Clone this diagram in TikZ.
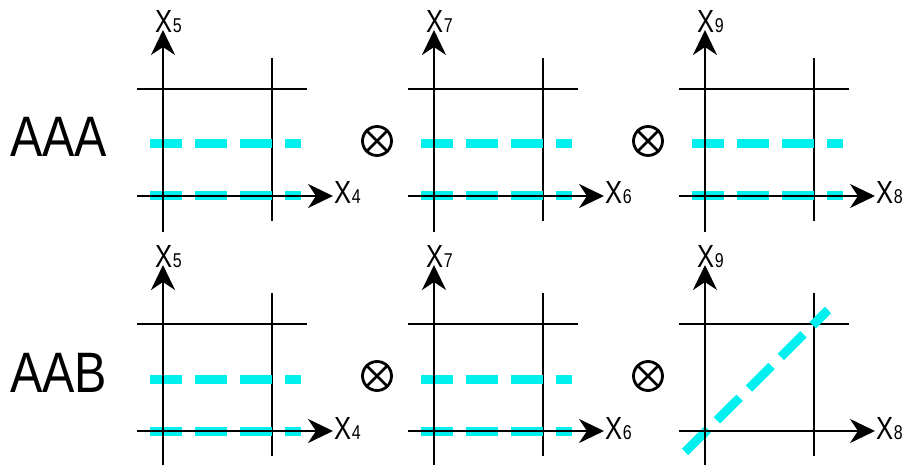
\documentclass[tikz,border=0pt]{standalone}
\usepackage{fontspec}
\setmainfont{Liberation Sans}
\usetikzlibrary{arrows.meta,calc}
\definecolor{aqua}{RGB}{0,240,240}
\newcommand\axlab[1]{\scalebox{0.8}[1]{\fontsize{32}{32}\selectfont X\kern1pt\fontsize{20}{20}\selectfont #1}}
\tikzset{
  axis/.style={line width=2.8pt,-{Stealth[length=25pt,width=24pt,inset=8pt]}},
  grid/.style={line width=2.8pt},
  cyanline/.style={aqua,line width=9pt,dash pattern=on 32pt off 13pt},
  lab/.style={inner sep=0pt,outer sep=0pt},
  otimes/.style={draw,circle,line width=2.8pt,minimum size=29pt,inner sep=0pt},
  big/.style={inner sep=0pt,anchor=base west,font=\fontsize{57}{57}\selectfont}
}
\begin{document}
\begin{tikzpicture}[x=1pt,y=-1pt]
\useasboundingbox (0,0) rectangle (903,465);
\foreach \ox/\oy/\yl/\xl/\nm/\dg in {163/196/5/4/a/0,434/196/7/6/b/0,705/196/9/8/c/0,163/431/5/4/d/0,434/431/7/6/e/0,705/431/9/8/f/1}{
  \coordinate (\nm o) at (\ox,\oy);
  \draw[grid] ($(\nm o)+(-26,-107)$) -- ($(\nm o)+(144,-107)$);
  \draw[grid] ($(\nm o)+(109,-138)$) -- ($(\nm o)+(109,25)$);
  \ifnum\dg=0
    \draw[cyanline] ($(\nm o)+(-13,-52)$) -- ($(\nm o)+(138,-52)$);
    \draw[cyanline] ($(\nm o)+(-13,0)$) -- ($(\nm o)+(138,0)$);
  \else
    \draw[cyanline] ($(\nm o)+(-20,21)$) -- ($(\nm o)+(123,-121)$);
  \fi
  \draw[axis] ($(\nm o)+(0,36)$) -- ($(\nm o)+(0,-166)$);
  \draw[axis] ($(\nm o)+(-26,0)$) -- ($(\nm o)+(170,0)$);
  \node[lab,anchor=base west] (\nm y) at ($(\nm o)+(-8,-163)$) {\axlab{\yl}};
  \node[lab,anchor=base west] (\nm x) at ($(\nm o)+(171,8)$) {\axlab{\xl}};
}
\node[big] (t1) at (10,157) {\scalebox{0.85}[1]{AAA}};
\node[big] (t2) at (10,392) {\scalebox{0.85}[1]{AAB}};
\foreach \n/\x/\y in {o1/377/141,o2/648/141,o3/377/376,o4/648/376}{
  \node[otimes] (\n) at (\x,\y) {};
  \draw[line width=2.8pt] (\n.45) -- (\n.225);
  \draw[line width=2.8pt] (\n.135) -- (\n.315);
}
\end{tikzpicture}
\end{document}
